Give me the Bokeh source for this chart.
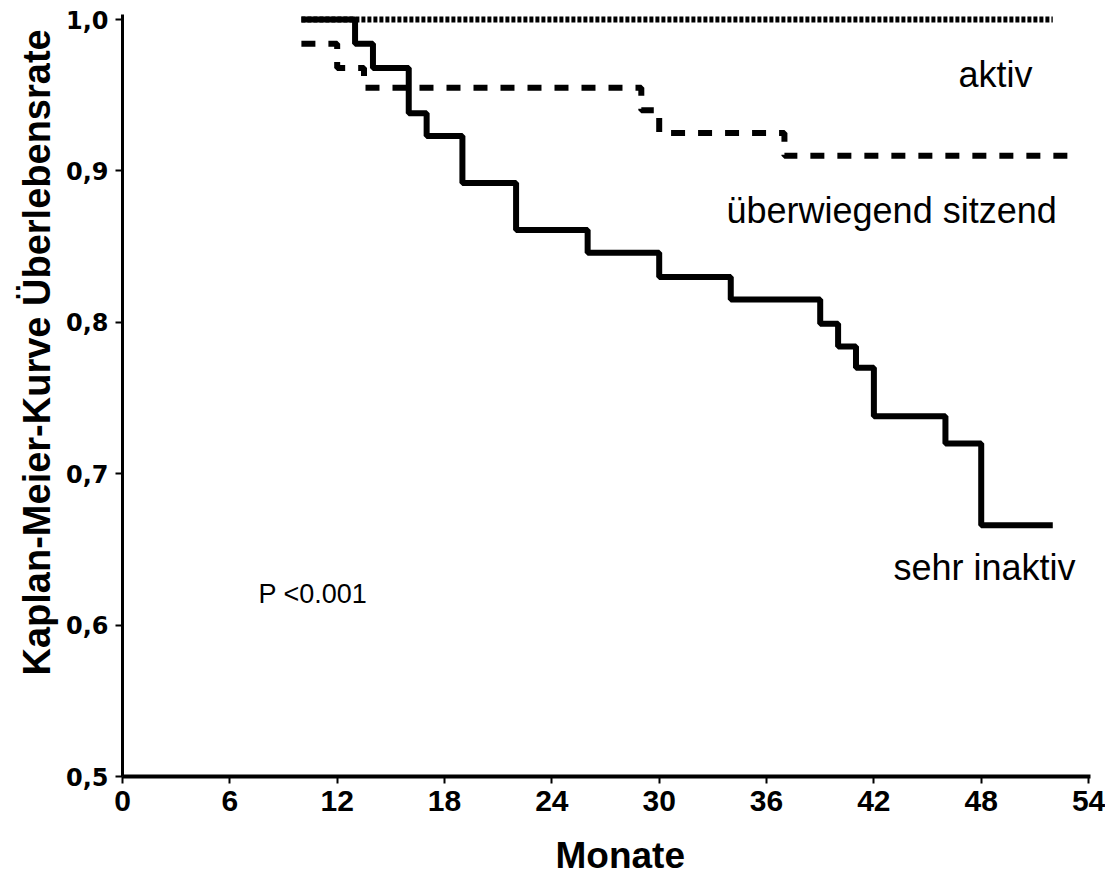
import math
from bokeh.plotting import figure
from bokeh.models import FixedTicker, Label, Range1d
from bokeh.embed import file_html
from bokeh.resources import INLINE

# --- data ---------------------------------------------------------------
aktiv_t = [10, 52]
aktiv_s = [1.0, 1.0]

sitzend_t = [10, 12, 13.5, 29, 30, 37, 53]
sitzend_s = [0.984, 0.968, 0.955, 0.940, 0.925, 0.910, 0.910]

inaktiv_t = [10, 13, 14, 16, 17, 19, 22, 26, 30, 34, 39, 40, 41, 42, 46, 48, 52]
inaktiv_s = [1.0, 0.984, 0.968, 0.938, 0.923, 0.892, 0.861, 0.846, 0.830,
             0.815, 0.799, 0.784, 0.770, 0.738, 0.720, 0.666, 0.666]

x_ticks = [0, 6, 12, 18, 24, 30, 36, 42, 48, 54]
y_ticks = [0.5, 0.6, 0.7, 0.8, 0.9, 1.0]
y_tick_labels = ["0,5", "0,6", "0,7", "0,8", "0,9", "1,0"]

group_names = ["aktiv", "überwiegend sitzend", "sehr inaktiv"]
p_text = "P <0.001"
x_title = "Monate"
y_title = "Kaplan-Meier-Kurve Überlebensrate"

# --- geometry (pixels of the page) ---------------------------------------
W, H = 1105, 878
X0_PX, PX_PER_MONTH = 122.0, 17.89      # where month 0 sits, scale
Y1_PX, PX_PER_UNIT = 19.0, 1514.0       # where survival 1.0 sits, scale


def dx(px):
    return (px - X0_PX) / PX_PER_MONTH


def dy(py):
    return 1.0 - (py - Y1_PX) / PX_PER_UNIT


p = figure(width=W, height=H, output_backend="svg", toolbar_location=None,
           x_range=Range1d(dx(0), dx(W)), y_range=Range1d(dy(H), dy(0)),
           min_border=0)
p.outline_line_color = None
p.xgrid.visible = False
p.ygrid.visible = False
p.background_fill_color = "white"
p.border_fill_color = "white"

for ax in (p.xaxis[0], p.yaxis[0]):
    ax.axis_line_color = "black"
    ax.axis_line_width = 3
    ax.major_tick_line_color = "black"
    ax.major_tick_line_width = 2
    ax.major_tick_in = 0
    ax.major_tick_out = 7
    ax.minor_tick_line_color = None
    ax.major_label_text_color = "black"
    ax.major_label_text_font_style = "bold"
    ax.major_label_standoff = 7

p.xaxis[0].fixed_location = 0.5
p.xaxis[0].bounds = (0, 54.1)
p.xaxis[0].axis_line_width = 4
p.xaxis[0].ticker = FixedTicker(ticks=x_ticks)
p.xaxis[0].major_label_text_font = "Liberation Sans"
p.xaxis[0].major_label_text_font_size = "30px"

p.yaxis[0].fixed_location = 0
p.yaxis[0].bounds = (0.5, 1.003)
p.yaxis[0].ticker = FixedTicker(ticks=y_ticks)
p.yaxis[0].major_label_overrides = {t: l for t, l in zip(y_ticks, y_tick_labels)}
p.yaxis[0].major_label_text_font = "DejaVu Sans"
p.yaxis[0].major_label_text_font_size = "24px"

# --- curves -------------------------------------------------------------
p.step(aktiv_t, aktiv_s, mode="after", line_color="black", line_width=6,
       line_dash="4 2")
p.step(sitzend_t, sitzend_s, mode="after", line_color="black", line_width=6,
       line_dash="14 13")
p.step(inaktiv_t, inaktiv_s, mode="after", line_color="black", line_width=6)

# --- texts --------------------------------------------------------------
F = "Liberation Sans"


def add_label(text, px, py, size, bold=False, **kw):
    p.add_layout(Label(x=dx(px), y=dy(py), text=text, text_font=F,
                       text_font_size=size, text_color="black",
                       text_font_style="bold" if bold else "normal",
                       text_baseline="alphabetic", **kw))


add_label(group_names[0], 958, 74, "36px")
add_label(group_names[1], 726, 210, "36px")
add_label(group_names[2], 893, 567, "36px")
add_label(p_text, 258, 593, "27px")
add_label(x_title, 555, 855, "37px", bold=True)
add_label(y_title, 36, 675, "38px", bold=True, angle=math.pi / 2)

open("out.html", "w").write(file_html(p, INLINE))
